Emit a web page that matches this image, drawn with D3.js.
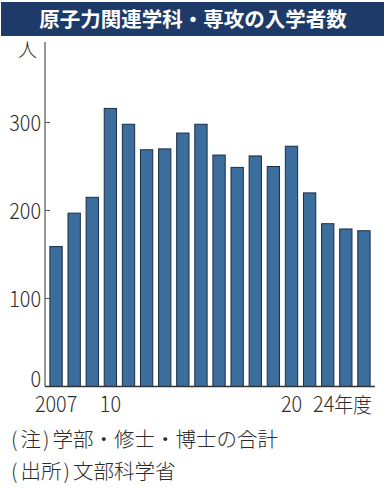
<!DOCTYPE html>
<html>
<head>
<meta charset="utf-8">
<script src="https://cdn.jsdelivr.net/npm/d3@7"></script>
<style>
  body { margin: 0; background: #fff; }
  svg { display: block; font-family: "Noto Sans CJK JP", "Noto Sans", sans-serif; }
  .num { font-size: 22px; font-weight: 300; fill: #2b2b2b; }
</style>
</head>
<body>
<svg id="chart" width="386" height="490"></svg>
<script>
const title = '原子力関連学科・専攻の入学者数'
const years = [2007, 2008, 2009, 2010, 2011, 2012, 2013, 2014, 2015, 2016, 2017, 2018, 2019, 2020, 2021, 2022, 2023, 2024]
const students = [159, 197, 215, 316, 298, 269, 270, 288, 298, 263, 249, 262, 250, 273, 220, 185, 179, 177]
const yTicks = [0, 100, 200, 300]
const xLabels = {2007: '2007', 2010: '10', 2020: '20', 2024: '24'}
const notes = ['(注)学部・修士・博士の合計', '(出所)文部科学省']

const svg = d3.select('#chart')
const squeeze = 0.9

// title bar
svg.append('rect')
  .attr('x', 1).attr('y', 2)
  .attr('width', 383).attr('height', 34)
  .style('fill', '#1e3a68')
svg.append('text')
  .attr('x', 193).attr('y', 27)
  .attr('text-anchor', 'middle')
  .style('fill', '#fff')
  .style('font-size', '20.5px')
  .style('font-weight', 'bold')
  .text(title)

const plotL = 45, plotR = 374, plotT = 42, base = 386.5

const y = d3.scaleLinear().domain([0, 300]).range([base, base - 264])
const x = d3.scaleBand().domain(years).range([plotL + 2, plotR - 1]).paddingInner(0.32).paddingOuter(0.16)

// bars
svg.selectAll('rect.bar')
  .data(years)
  .enter()
  .append('rect')
  .attr('class', 'bar')
  .attr('x', d => x(d))
  .attr('y', (d, i) => y(students[i]))
  .attr('width', x.bandwidth())
  .attr('height', (d, i) => base - y(students[i]))
  .style('fill', '#3b6e9c')
  .style('stroke', '#1b2c44')
  .style('stroke-width', 1)

// y axis
svg.append('line')
  .attr('x1', plotL).attr('x2', plotL)
  .attr('y1', plotT).attr('y2', base)
  .style('stroke', '#555').style('stroke-width', 1.2)
svg.selectAll('line.ytick')
  .data(yTicks)
  .enter()
  .append('line')
  .attr('x1', plotL).attr('x2', plotL + 5)
  .attr('y1', d => y(d)).attr('y2', d => y(d))
  .style('stroke', '#555')
// the 0 label sits on the baseline so it clears the year labels
svg.selectAll('text.ylab')
  .data(yTicks)
  .enter()
  .append('text')
  .attr('class', 'num')
  .attr('transform', d => `translate(41,${y(d) + (d === 0 ? 0 : 8)}) scale(${squeeze},1)`)
  .attr('text-anchor', 'end')
  .text(d => d)
svg.append('text')
  .attr('x', 27.5).attr('y', 57)
  .attr('text-anchor', 'middle')
  .style('font-size', '19px')
  .style('font-weight', 300)
  .style('fill', '#2b2b2b')
  .text('人')

// baseline
svg.append('line')
  .attr('x1', plotL).attr('x2', plotR + 1)
  .attr('y1', base).attr('y2', base)
  .style('stroke', '#333').style('stroke-width', 1.4)

// x labels
Object.entries(xLabels).forEach(([yr, lab]) => {
  const cx = x(+yr) + x.bandwidth() / 2
  const last = +yr === 2024
  const t = svg.append('text')
    .attr('class', 'num')
    .attr('transform', `translate(${last ? plotR - 2 : cx},412) scale(${squeeze},1)`)
    .attr('text-anchor', last ? 'end' : 'middle')
  t.append('tspan').text(lab)
  if (last) {
    t.append('tspan')
      .style('font-size', '21px')
      .text('年度')
  }
})

// notes: a little air inside and after the brackets
notes.forEach((d, i) => {
  const m = d.match(/^\((.*?)\)(.*)$/)
  const t = svg.append('text')
    .attr('x', 11)
    .attr('y', 446.5 + i * 32)
    .style('font-size', '20.5px')
    .style('font-weight', 300)
    .style('fill', '#2b2b2b')
  t.append('tspan').text('(')
  t.append('tspan').attr('dx', 3).text(m[1])
  t.append('tspan').attr('dx', 2).text(')')
  t.append('tspan').attr('dx', 3).text(m[2])
})
</script>
</body>
</html>
